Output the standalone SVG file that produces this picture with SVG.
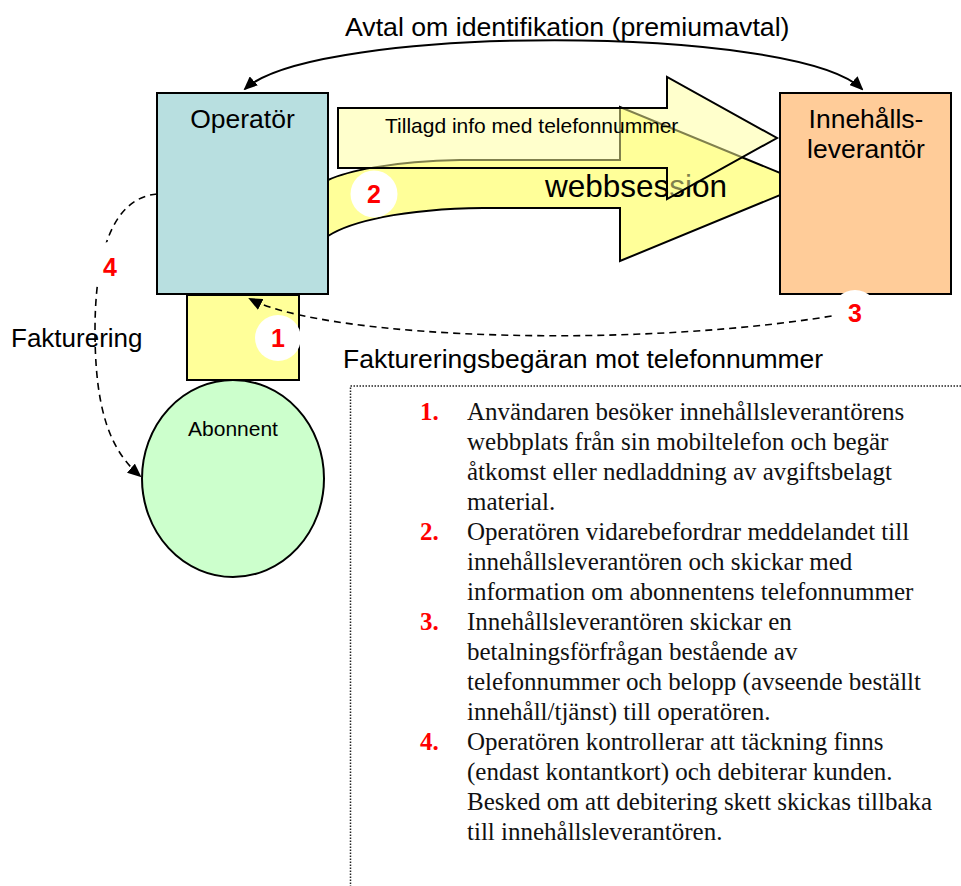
<svg xmlns="http://www.w3.org/2000/svg" width="961" height="886" viewBox="0 0 961 886">
<defs>
<style>
.sans{font-family:"Liberation Sans",Arial,sans-serif;fill:#000}
.serif{font-family:"Liberation Serif","Times New Roman",serif;font-size:25px;fill:#111}
.num{font-family:"Liberation Serif","Times New Roman",serif;font-size:25px;font-weight:bold;fill:#ff0000}
.badge{fill:#fff;stroke:none}
.badgetxt{font-family:"Liberation Sans",Arial,sans-serif;font-size:25px;font-weight:bold;fill:#ff0000;text-anchor:middle}
.box{stroke:#000;stroke-width:2}
.dash{fill:none;stroke:#000;stroke-width:1.6;stroke-dasharray:7 5}
</style>
<marker id="ah" viewBox="0 0 14 12" refX="12" refY="6" markerWidth="14" markerHeight="12" markerUnits="userSpaceOnUse" orient="auto-start-reverse">
<path d="M0,0 L14,6 L0,12 z" fill="#000"/>
</marker>
</defs>
<rect width="961" height="886" fill="#fff"/>

<g id="flows">
<path id="webbsession-arrow" d="M328,180 C345,172 390,161 460,160 L620,160 L620,107 L807,184 L620,261 L620,208 L483,208 C400,209 350,222 328,236 Z" fill="#ffff99" stroke="#000" stroke-width="2"/>
<text class="sans" x="545" y="197" font-size="31.5">webbsession</text>
<path id="tillagd-arrow" d="M338,108 L667,108 L667,77 L777,138 L667,199 L667,168 L338,168 Z" fill="#ffff99" fill-opacity="0.5" stroke="#000" stroke-width="2"/>
<text class="sans" x="385" y="133" font-size="21">Tillagd info med telefonnummer</text>
</g>

<g id="operator">
<rect class="box" x="157" y="93" width="171" height="201" fill="#b8dfe0"/>
<text class="sans" x="242.5" y="128" font-size="26.5" text-anchor="middle">Operatör</text>
</g>

<g id="innehallsleverantor">
<rect class="box" x="780" y="93" width="171" height="201" fill="#ffcc99"/>
<text class="sans" x="866" y="128" font-size="26.5" text-anchor="middle">Innehålls-</text>
<text class="sans" x="866" y="158" font-size="26.5" text-anchor="middle">leverantör</text>
</g>

<g id="access">
<rect class="box" x="187" y="295" width="112" height="85" fill="#ffff99"/>
</g>

<g id="abonnent">
<ellipse class="box" cx="233" cy="478.5" rx="91" ry="98.5" fill="#ccffcc"/>
<text class="sans" x="233" y="436" font-size="21" text-anchor="middle">Abonnent</text>
</g>

<g id="labels">
<text class="sans" x="345" y="36" font-size="26.7">Avtal om identifikation (premiumavtal)</text>
<text class="sans" x="11" y="347" font-size="26">Fakturering</text>
<text class="sans" x="343" y="368" font-size="26.5">Faktureringsbegäran mot telefonnummer</text>
</g>

<g id="connectors">
<path d="M245,89 C315,24 795,24 862,89" fill="none" stroke="#000" stroke-width="2" marker-start="url(#ah)" marker-end="url(#ah)"/>
<path class="dash" d="M855,312 C650,350 330,340 250,299" marker-end="url(#ah)"/>
<path class="dash" d="M157,194 C110,198 95,260 95,330 C95,410 110,450 140,476" marker-end="url(#ah)"/>
</g>

<g id="steps">
<circle class="badge" cx="278" cy="338" r="23"/>
<text class="badgetxt" x="278" y="347">1</text>
<circle class="badge" cx="374" cy="194" r="23.5"/>
<text class="badgetxt" x="374" y="203">2</text>
<circle class="badge" cx="855" cy="313" r="23"/>
<text class="badgetxt" x="855" y="322">3</text>
<circle class="badge" cx="109" cy="265" r="23"/>
<text class="badgetxt" x="110" y="276">4</text>
</g>

<g id="legend">
<path d="M961,386 H350.5 V886" fill="none" stroke="#222" stroke-width="1.5" stroke-dasharray="1.5 1.5"/>
<text class="num" x="420" y="420">1.</text>
<text class="serif" x="467" y="420">Användaren besöker innehållsleverantörens</text>
<text class="serif" x="467" y="450">webbplats från sin mobiltelefon och begär</text>
<text class="serif" x="467" y="480">åtkomst eller nedladdning av avgiftsbelagt</text>
<text class="serif" x="467" y="510">material.</text>
<text class="num" x="420" y="540">2.</text>
<text class="serif" x="467" y="540">Operatören vidarebefordrar meddelandet till</text>
<text class="serif" x="467" y="570">innehållsleverantören och skickar med</text>
<text class="serif" x="467" y="600">information om abonnentens telefonnummer</text>
<text class="num" x="420" y="630">3.</text>
<text class="serif" x="467" y="630">Innehållsleverantören skickar en</text>
<text class="serif" x="467" y="660">betalningsförfrågan bestående av</text>
<text class="serif" x="467" y="690">telefonnummer och belopp (avseende beställt</text>
<text class="serif" x="467" y="720">innehåll/tjänst) till operatören.</text>
<text class="num" x="420" y="750">4.</text>
<text class="serif" x="467" y="750">Operatören kontrollerar att täckning finns</text>
<text class="serif" x="467" y="780">(endast kontantkort) och debiterar kunden.</text>
<text class="serif" x="467" y="810">Besked om att debitering skett skickas tillbaka</text>
<text class="serif" x="467" y="840">till innehållsleverantören.</text>
</g>
</svg>
